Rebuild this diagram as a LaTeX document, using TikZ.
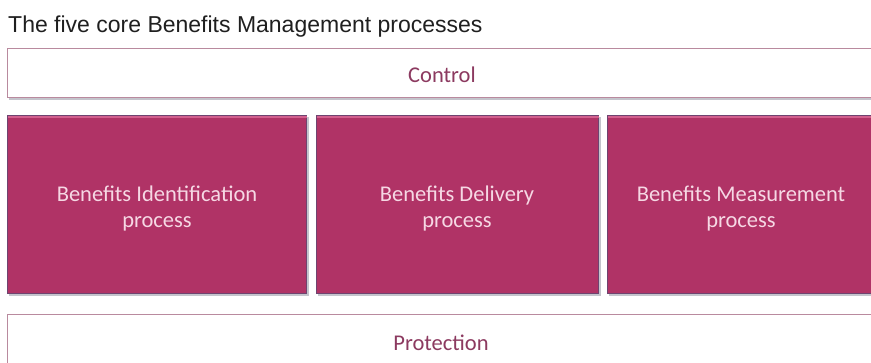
\documentclass[tikz,border=0pt]{standalone}
\usepackage{fontspec}
\setmainfont{Carlito}
\newfontfamily\titlefont{Liberation Sans}
\definecolor{boxfill}{HTML}{B03366}
\definecolor{boxedge}{HTML}{6E4470}
\definecolor{boxhigh}{HTML}{D2608E}
\definecolor{boxtext}{HTML}{F6D8E4}
\definecolor{bandedge}{HTML}{B98A9E}
\definecolor{bandtext}{HTML}{8C3A60}
\definecolor{shadowc}{HTML}{C4C4CC}
\tikzset{
  procbox/.style={draw=boxedge, line width=1.2pt, fill=boxfill,
    minimum height=178pt, inner sep=0pt},
  proclabel/.style={text=boxtext, align=center, font=\fontsize{22.5}{26}\selectfont, inner sep=0pt},
  band/.style={draw=bandedge, line width=1.3pt, fill=white,
    minimum height=49pt, minimum width=880pt, inner sep=0pt},
  bandlabel/.style={text=bandtext, font=\fontsize{22.5}{26}\selectfont, inner sep=0pt}
}
\begin{document}
\begin{tikzpicture}[x=1pt,y=-1pt]
\useasboundingbox (0,0) rectangle (871,362);
\begin{scope}
\clip (0,0) rectangle (871,362);
\node[anchor=base west, inner sep=0pt, font=\titlefont\fontsize{23}{26}\selectfont, text=black!88] (title) at (8,32) {The five core Benefits Management processes};
% shadows
\fill[shadowc] (9,50) rectangle (890,100);
\fill[shadowc] (9,117) rectangle (309,295.5);
\fill[shadowc] (318,117) rectangle (601,295.5);
\fill[shadowc] (609,117) rectangle (890,295.5);
\fill[shadowc] (9,316) rectangle (890,380);
\node[band, anchor=north west] (control) at (7,48) {};
\node[bandlabel] (controllabel) at (442,75) {Control};
\node[procbox, anchor=north west, minimum width=299pt] (ident) at (7,115) {};
\node[procbox, anchor=north west, minimum width=282pt] (deliv) at (316,115) {};
\node[procbox, anchor=north west, minimum width=290pt] (meas) at (607,115) {};
\fill[boxhigh] ([xshift=0.6pt,yshift=-0.6pt]ident.north west) rectangle ([xshift=-0.6pt,yshift=-3pt]ident.north east);
\fill[boxhigh] ([xshift=0.6pt,yshift=-0.6pt]deliv.north west) rectangle ([xshift=-0.6pt,yshift=-3pt]deliv.north east);
\fill[boxhigh] ([xshift=0.6pt,yshift=-0.6pt]meas.north west) rectangle ([xshift=-0.6pt,yshift=-3pt]meas.north east);
\node[proclabel, anchor=base] (identlabel) at (157,227) {Benefits Identification\\process};
\node[proclabel, anchor=base] (delivlabel) at (457,227) {Benefits Delivery\\process};
\node[proclabel, anchor=base] (measlabel) at (741,227) {Benefits Measurement\\process};
\node[band, anchor=north west, minimum height=70pt] (protect) at (7,314) {};
\node[bandlabel] (protectlabel) at (441,343) {Protection};
\end{scope}
\end{tikzpicture}
\end{document}
